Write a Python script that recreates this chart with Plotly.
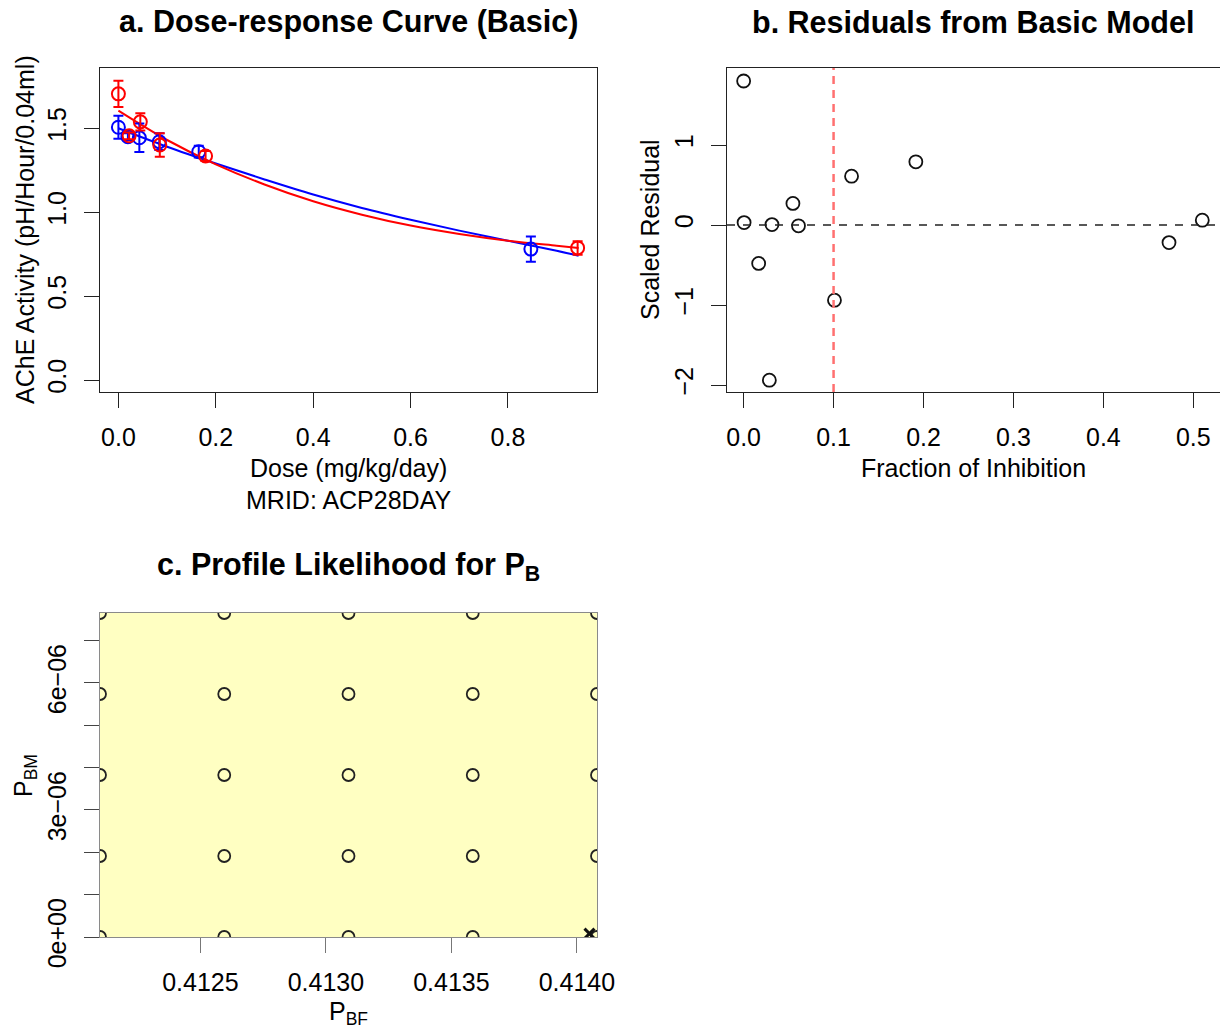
import plotly.graph_objects as go

# ---------------- data ----------------
# panel a: dose-response (blue = males, red = females)
dose_blue = [0.0, 0.0195, 0.043, 0.084, 0.165, 0.847]
ache_blue = [1.506, 1.45, 1.443, 1.42, 1.36, 0.78]
err_blue = [0.068, 0.02, 0.085, 0.05, 0.035, 0.075]

dose_red = [0.0, 0.022, 0.045, 0.085, 0.179, 0.943]
ache_red = [1.705, 1.455, 1.538, 1.40, 1.335, 0.787]
err_red = [0.078, 0.02, 0.052, 0.07, 0.03, 0.04]

fit_dose = [0.0, 0.1, 0.2, 0.3, 0.4, 0.5, 0.6, 0.7, 0.8, 0.9, 0.945]
fit_blue = [1.50, 1.39, 1.29, 1.195, 1.105, 1.025, 0.955, 0.89, 0.83, 0.77, 0.74]
fit_red = [1.605, 1.43, 1.285, 1.165, 1.065, 0.985, 0.92, 0.87, 0.83, 0.80, 0.787]

# panel b: residuals
inhibition = [0.0, 0.0005, 0.0167, 0.0286, 0.0315, 0.0548, 0.061, 0.101, 0.120, 0.1915, 0.473, 0.510]
scaled_resid = [1.80, 0.03, -0.48, -1.94, 0.005, 0.27, -0.01, -0.94, 0.61, 0.79, -0.22, 0.06]
inhibition_threshold = 0.1

# panel c: profile likelihood grid
pbf_grid = [0.41210, 0.412595, 0.41309, 0.413585, 0.41408]
pbm_grid = [0.0, 1.9125e-06, 3.825e-06, 5.7375e-06, 7.65e-06]
mle_pbf = [0.41405]
mle_pbm = [0.08e-06]
pbm_tickvals = [0, 3e-06, 6e-06]
pbm_ticktext = ["0e+00", "3e\u221206", "6e\u221206"]
pbm_minor_step = 1e-06
pbf_tickvals = [0.4125, 0.4130, 0.4135, 0.4140]
pbf_ticktext = ["0.4125", "0.4130", "0.4135", "0.4140"]

# ---------------- layout helpers ----------------
W, H = 1220, 1033
FONT = "Liberation Sans, Arial, Helvetica, sans-serif"
TICK = 25
LAB = 25


def px(x):
    return x / W


def py(y):
    return 1 - y / H


fig = go.Figure()

BLUE = "#0000FF"
RED = "#FF0000"

# panel a
fig.add_trace(go.Scatter(x=fit_dose, y=fit_blue, mode="lines", line=dict(color=BLUE, width=2, shape="spline"),
                         xaxis="x", yaxis="y", showlegend=False))
fig.add_trace(go.Scatter(x=fit_dose, y=fit_red, mode="lines", line=dict(color=RED, width=2, shape="spline"),
                         xaxis="x", yaxis="y", showlegend=False))
fig.add_trace(go.Scatter(x=dose_blue, y=ache_blue, mode="markers",
                         marker=dict(symbol="circle-open", size=13, color=BLUE, line=dict(width=2, color=BLUE)),
                         error_y=dict(type="data", array=err_blue, color=BLUE, thickness=2, width=5),
                         xaxis="x", yaxis="y", showlegend=False))
fig.add_trace(go.Scatter(x=dose_red, y=ache_red, mode="markers",
                         marker=dict(symbol="circle-open", size=13, color=RED, line=dict(width=2, color=RED)),
                         error_y=dict(type="data", array=err_red, color=RED, thickness=2, width=5),
                         xaxis="x", yaxis="y", showlegend=False))

# panel b
fig.add_trace(go.Scatter(x=inhibition, y=scaled_resid, mode="markers",
                         marker=dict(symbol="circle-open", size=13, color="#111", line=dict(width=1.8, color="#111")),
                         xaxis="x2", yaxis="y2", showlegend=False))

# panel c
gx, gy = [], []
for yv in pbm_grid:
    for xv in pbf_grid:
        gx.append(xv)
        gy.append(yv)
fig.add_trace(go.Scatter(x=gx, y=gy, mode="markers",
                         marker=dict(symbol="circle-open", size=12, color="#222", line=dict(width=1.8, color="#222")),
                         xaxis="x3", yaxis="y3", showlegend=False))
fig.add_trace(go.Scatter(x=mle_pbf, y=mle_pbm, mode="markers",
                         marker=dict(symbol="x-thin", size=10, color="#111", line=dict(width=3, color="#111")),
                         xaxis="x3", yaxis="y3", showlegend=False))


def axis_style(linecolor="#222", tickcolor="#222", mirror=True):
    return dict(showline=True, mirror=mirror, linecolor=linecolor, linewidth=1, ticks="outside", ticklen=15,
                tickwidth=1, tickcolor=tickcolor, showgrid=False, zeroline=False, automargin=False,
                ticklabelstandoff=8, tickfont=dict(family=FONT, size=TICK, color="#000"))


fig.update_layout(
    template="none",
    width=W, height=H, autosize=False,
    margin=dict(l=0, r=0, t=0, b=0, pad=0, autoexpand=False),
    paper_bgcolor="white", plot_bgcolor="rgba(0,0,0,0)",
    font=dict(family=FONT, color="#000"),
    xaxis=dict(domain=[px(100), px(597)], range=[-0.0378, 0.9828], anchor="y",
               tickvals=[0, 0.2, 0.4, 0.6, 0.8], ticktext=["0.0", "0.2", "0.4", "0.6", "0.8"],
               **axis_style()),
    yaxis=dict(domain=[py(392), py(68)], range=[-0.0715, 1.859], anchor="x",
               tickvals=[0, 0.5, 1.0, 1.5], ticktext=["0.0", "0.5", "1.0", "1.5"], tickangle=-90,
               **axis_style()),
    xaxis2=dict(domain=[px(727), 1.0], range=[-0.0185, 0.5297], anchor="y2",
                tickvals=[0, 0.1, 0.2, 0.3, 0.4, 0.5], ticktext=["0.0", "0.1", "0.2", "0.3", "0.4", "0.5"],
                **axis_style()),
    yaxis2=dict(domain=[py(392), py(68)], range=[-2.0875, 1.9625], anchor="x2",
                tickvals=[-2, -1, 0, 1], ticktext=["\u22122", "\u22121", "0", "1"], tickangle=-90,
                **axis_style(mirror=False)),
    xaxis3=dict(domain=[px(100), px(597)], range=[pbf_grid[0], pbf_grid[-1]], anchor="y3",
                tickvals=pbf_tickvals, ticktext=pbf_ticktext,
                **axis_style(linecolor="#8a8a8a", tickcolor="#777")),
    yaxis3=dict(domain=[py(937), py(613)], range=[pbm_grid[0], pbm_grid[-1]], anchor="x3",
                tickvals=pbm_tickvals, ticktext=pbm_ticktext, tickangle=-90,
                minor=dict(tick0=0, dtick=pbm_minor_step, ticks="outside", ticklen=15, tickwidth=1,
                           tickcolor="#444", showgrid=False),
                **axis_style(linecolor="#8a8a8a", tickcolor="#444")),
)

shapes = [
    dict(type="rect", xref="x3 domain", yref="y3 domain", x0=0, x1=1, y0=0, y1=1,
         fillcolor="#FFFFC2", line=dict(width=0), layer="below"),
    dict(type="line", xref="x2 domain", yref="y2", x0=0, x1=1, y0=0, y1=0,
         line=dict(color="#222", width=1.5, dash="8px,8px")),
    dict(type="line", xref="x2", yref="y2 domain", x0=inhibition_threshold, x1=inhibition_threshold, y0=0, y1=1,
         line=dict(color="#FF7070", width=2.5, dash="8px,6px")),
]
fig.update_layout(shapes=shapes)


def ann(text, x, y, size=LAB, bold=False, angle=0):
    if bold:
        text = "<b>" + text + "</b>"
    return dict(text=text, x=px(x), y=py(y), xref="paper", yref="paper", showarrow=False,
                xanchor="center", yanchor="middle", textangle=angle,
                font=dict(family=FONT, size=size, color="#000"))


anns = [
    ann("a. Dose-response Curve (Basic)", 348, 22, size=30.5, bold=True),
    ann("b. Residuals from Basic Model", 973, 22, size=30.5, bold=True),
    ann("c. Profile Likelihood for P<sub>B</sub>", 348, 566, size=30.5, bold=True),
    ann("Dose (mg/kg/day)", 348, 468),
    ann("MRID: ACP28DAY", 348, 500),
    ann("AChE Activity (pH/Hour/0.04ml)", 25, 230, angle=-90),
    ann("Fraction of Inhibition", 973, 468),
    ann("Scaled Residual", 650, 230, angle=-90),
    ann("P<sub>BF</sub>", 348, 1013),
    ann("P<sub>BM</sub>", 25, 775, angle=-90),
]
fig.update_layout(annotations=anns)

page_fix = ("document.documentElement.style.margin='0';document.documentElement.style.overflow='hidden';"
            "document.body.style.margin='0';document.body.style.padding='0';document.body.style.overflow='hidden';")
fig.write_html("out.html", post_script=page_fix)
